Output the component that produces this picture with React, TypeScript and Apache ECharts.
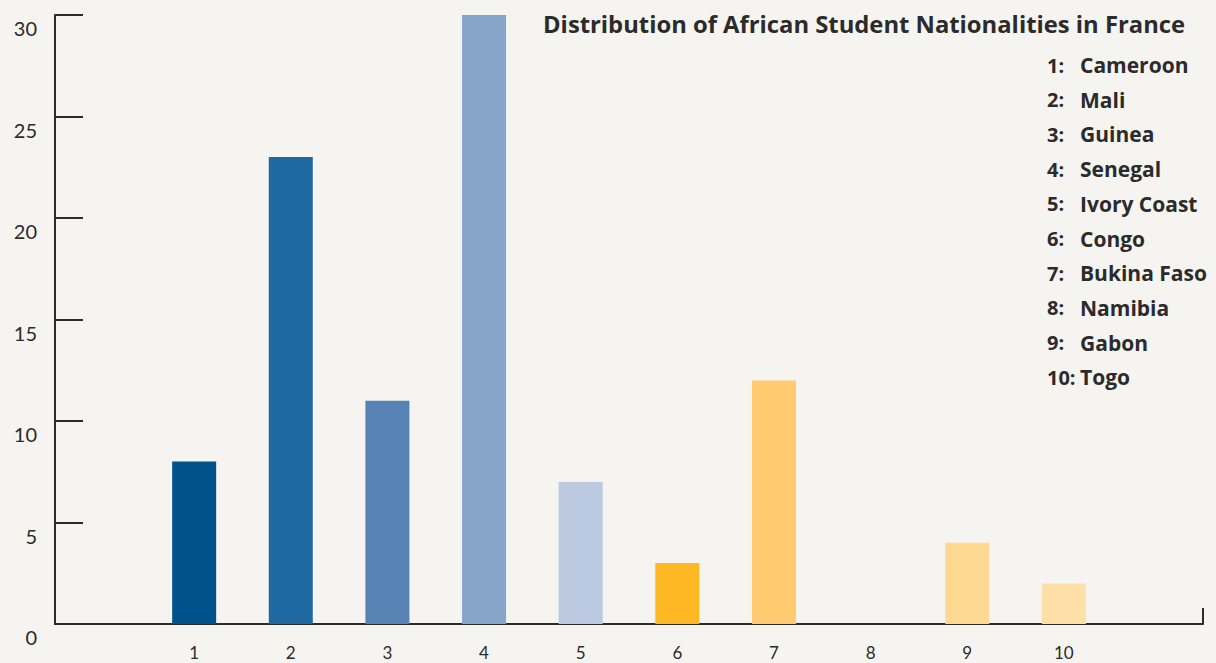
import React, { useEffect, useRef } from "react";
import * as echarts from "echarts";

const positions = [1, 2, 3, 4, 5, 6, 7, 8, 9, 10];
const countries = [
  "Cameroon",
  "Mali",
  "Guinea",
  "Senegal",
  "Ivory Coast",
  "Congo",
  "Bukina Faso",
  "Namibia",
  "Gabon",
  "Togo",
];
const values = [8, 23, 11, 30, 7, 3, 12, 0, 4, 2];
const barColors = [
  "#00528C",
  "#1F69A2",
  "#5783B4",
  "#87A5C9",
  "#BBC9E1",
  "#FDB823",
  "#FFCA70",
  "#2A2A2A",
  "#FFD891",
  "#FEDFA8",
];
const yTicks = [0, 5, 10, 15, 20, 25, 30];
const titleText = "Distribution of African Student Nationalities in France";

const INK = "#2b2b2b";
const FONT = "Lato, 'Noto Sans', sans-serif";
const BOLD_FONT = "'Open Sans', 'Noto Sans', sans-serif";

export default function App() {
  const ref = useRef<HTMLDivElement>(null);

  useEffect(() => {
    if (!ref.current) return;
    const chart = echarts.init(ref.current, null, { renderer: "svg" });

    const legendItems: any[] = [];
    countries.forEach((name, i) => {
      const y = 65 + i * 34.7;
      legendItems.push({
        type: "text",
        x: 1047,
        y,
        style: {
          text: positions[i] + ":",
          font: `bold 20px ${BOLD_FONT}`,
          fill: INK,
          textVerticalAlign: "middle",
        },
      });
      legendItems.push({
        type: "text",
        x: 1080,
        y,
        style: {
          text: name,
          font: `bold 21px ${BOLD_FONT}`,
          fill: INK,
          textVerticalAlign: "middle",
        },
      });
    });

    chart.setOption({
      animation: false,
      backgroundColor: "#F5F4F0",
      grid: { left: 55, right: 13, top: 15, bottom: 39, containLabel: false },
      xAxis: {
        type: "value",
        min: -0.44,
        max: 11.44,
        minInterval: 1,
        maxInterval: 1,
        splitLine: { show: false },
        axisTick: { show: false },
        axisLine: { show: true, onZero: false, lineStyle: { color: INK, width: 2 } },
        axisLabel: {
          showMinLabel: false,
          showMaxLabel: false,
          margin: 20,
          fontSize: 17,
          fontFamily: FONT,
          color: INK,
          formatter: (v: number) =>
            positions.indexOf(v) >= 0 ? String(v) : "",
        },
      },
      yAxis: {
        type: "value",
        min: yTicks[0],
        max: yTicks[yTicks.length - 1],
        interval: 5,
        splitLine: { show: false },
        axisLine: { show: true, onZero: false, lineStyle: { color: INK, width: 2 } },
        axisTick: {
          show: true,
          inside: true,
          length: 28,
          lineStyle: { color: INK, width: 2 },
        },
        axisLabel: {
          margin: 18,
          fontSize: 20,
          fontFamily: FONT,
          color: INK,
          verticalAlign: "top",
          padding: [3, 0, 0, 0],
        },
      },
      series: [
        {
          type: "bar",
          barWidth: 44,
          data: positions.map((p, i) => ({
            value: [p, values[i]],
            itemStyle: { color: barColors[i] },
          })),
        },
      ],
      graphic: [
        {
          type: "text",
          x: 543,
          y: 24,
          style: {
            text: titleText,
            font: `bold 23.8px ${BOLD_FONT}`,
            fill: INK,
            textVerticalAlign: "middle",
          },
        },
        ...legendItems,
        {
          type: "line",
          shape: { x1: 1203, y1: 608, x2: 1203, y2: 624 },
          style: { stroke: INK, lineWidth: 2 },
        },
      ],
    });

    return () => chart.dispose();
  }, []);

  return (
    <div
      ref={ref}
      style={{
        position: "fixed",
        left: 0,
        top: 0,
        width: 1216,
        height: 663,
        background: "#F5F4F0",
      }}
    />
  );
}
